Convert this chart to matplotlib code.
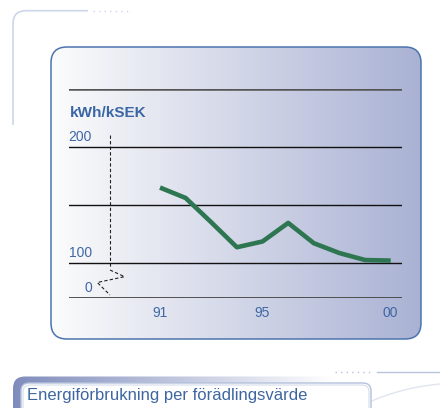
import numpy as np
import matplotlib
matplotlib.use("Agg")
import matplotlib.pyplot as plt
from matplotlib.patches import FancyBboxPatch, PathPatch
from matplotlib.path import Path

plt.rcParams['font.family'] = ['Liberation Sans', 'DejaVu Sans']

# data
years = [1991, 1992, 1993, 1994, 1995, 1996, 1997, 1998, 1999, 2000]
kwh_per_ksek = [165, 156, 135, 113.5, 118.5, 134.5, 117, 108.5, 102.5, 102]
xtick_years = [1991, 1995, 2000]
xtick_labels = ['91', '95', '00']
grid_levels = [100, 150, 200]
# broken axis: the "0" line is drawn at 70, top rule at 250
ytick_pos = [70, 100, 200]
ytick_labels = ['0', '100', '200']
unit_label = 'kWh/kSEK'
title = 'Energiförbrukning per förädlingsvärde'

W, H = 440, 408
fig = plt.figure(figsize=(W / 100, H / 100), dpi=100)

# background layer in pixel coordinates
bg = fig.add_axes([0, 0, 1, 1])
bg.set_xlim(0, W)
bg.set_ylim(H, 0)
bg.axis('off')

# top-left decoration
deco = '#cdd6ea'
verts = [(13, 125), (13, 24), (13, 10.7), (26, 10.7), (88, 10.7)]
codes = [Path.MOVETO, Path.LINETO, Path.CURVE3, Path.CURVE3, Path.LINETO]
bg.add_patch(PathPatch(Path(verts, codes), fill=False, ec=deco, lw=1.2))
bg.plot([93, 132], [10.7, 10.7], color=deco, lw=1.0, ls=(0, (1, 3)))

# chart panel with gradient
panel = FancyBboxPatch((51, 47), 370, 292, boxstyle="round,pad=0,rounding_size=16",
                       fc='none', ec='#4b74ad', lw=1.1, zorder=3)
bg.add_patch(panel)
t = np.linspace(0, 1, 256)
c0 = np.array([252, 252, 252]) / 255
c1 = np.array([170, 178, 212]) / 255
grad = (c0[None, :] * (1 - t[:, None]) + c1[None, :] * t[:, None])[None, :, :]
im = bg.imshow(grad, extent=(51, 421, 339, 47), aspect='auto', zorder=1)
clip = FancyBboxPatch((51, 47), 370, 292, boxstyle="round,pad=0,rounding_size=16",
                      fc='none', ec='none', transform=bg.transData)
im.set_clip_path(clip)

# bottom title bar
bar = FancyBboxPatch((13, 376.5), 460, 60, boxstyle="round,pad=0,rounding_size=12",
                     fc='none', ec='none')
bg.add_patch(bar)
tb = np.linspace(0, 1, 256)
b0 = np.array([128, 140, 188]) / 255
b1 = np.array([255, 255, 255]) / 255
tt = np.clip(tb / 0.75, 0, 1)[:, None]
bgrad = (b0[None, :] * (1 - tt) + b1[None, :] * tt)[None, :, :]
im2 = bg.imshow(bgrad, extent=(13, 440, 408, 376.5), aspect='auto', zorder=1)
im2.set_clip_path(bar)
inner = FancyBboxPatch((21, 383), 350, 32, boxstyle="round,pad=0,rounding_size=8",
                       fc='white', ec='#b3c1dc', lw=1.0, zorder=2)
bg.add_patch(inner)
inner2 = FancyBboxPatch((23, 385), 346, 30, boxstyle="round,pad=0,rounding_size=7",
                        fc='none', ec='#d3dcec', lw=0.8, zorder=2)
bg.add_patch(inner2)
bg.text(27, 395.5, title, color='#3d66a0', fontsize=12, va='center', ha='left', zorder=4)

# bottom-right decoration
bg.plot([335, 373], [372.3, 372.3], color='#b8c4dc', lw=1.0, ls=(0, (1, 3)))
bg.plot([377, 440], [372.3, 372.3], color='#b8c4dc', lw=1.0)
cverts = [(357, 408), (395, 388), (440, 384)]
bg.add_patch(PathPatch(Path(cverts, [Path.MOVETO, Path.CURVE3, Path.CURVE3]),
                       fill=False, ec='#e1e5ef', lw=1.0))

# broken-axis marker and dashed y line
bg.plot([110, 110], [135, 268], color='#222222', lw=0.8, ls=(0, (3, 2)), zorder=4)
bg.plot([110, 124.5, 97.3, 110], [270, 276.7, 282.5, 295], color='#222222', lw=0.8,
        ls=(0, (3, 2)), zorder=4)

# data axes
x_left, x_right = 69.3, 401.7
y_top, y_bot = 89.0, 297.7
ax = fig.add_axes([x_left / W, (H - y_bot) / H, (x_right - x_left) / W, (y_bot - y_top) / H])
ax.patch.set_alpha(0)
px_per_year = 25.63
ax.set_xlim(1991 - (160 - x_left) / px_per_year, 2000 + (x_right - 390.7) / px_per_year)
ax.set_ylim(70, 250)
for s in ax.spines.values():
    s.set_visible(False)

ax.axhline(250, color='#555555', lw=1.8)
ax.axhline(70, color='#454545', lw=1.3)
for g in grid_levels:
    ax.axhline(g, color='#111111', lw=1.0)

ax.plot(years, kwh_per_ksek, color='#2e7552', lw=3.3, solid_joinstyle='round',
        solid_capstyle='butt', zorder=5)

ax.set_xticks(xtick_years, xtick_labels)
ax.set_yticks([])
ax.tick_params(axis='x', length=0, pad=6, labelsize=10, labelcolor='#3f67a4')

px_per_unit = (y_bot - y_top) / 180
label_x = 1991 - (160 - 92) / px_per_year
for v, lab in zip(ytick_pos, ytick_labels):
    ax.text(label_x, v + 10 / px_per_unit, lab, ha='right', va='center', fontsize=10,
            color='#3f67a4')
ax.text(x_left + 1, 112.7, unit_label, transform=bg.transData, ha='left', va='center',
        fontsize=11, fontweight='bold', color='#3a66a4')

fig.savefig('out.png', dpi=100)
